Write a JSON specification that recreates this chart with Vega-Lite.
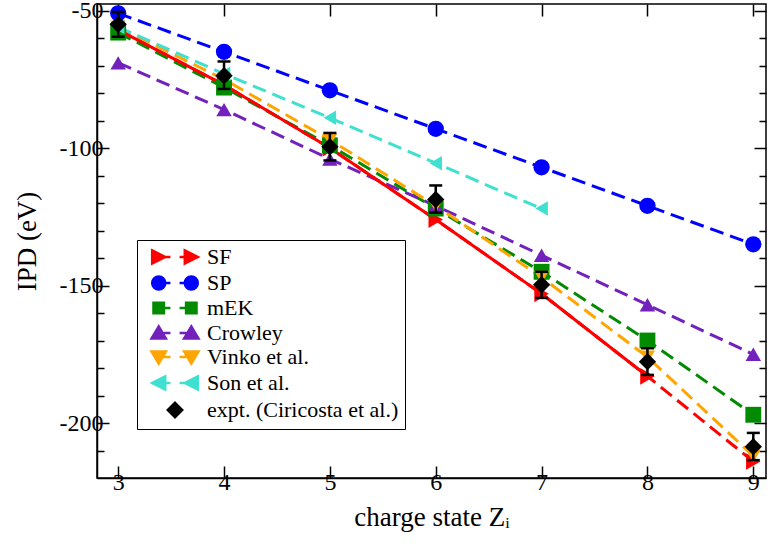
{
  "$schema": "https://vega.github.io/schema/vega-lite/v6.json",
  "autosize": "none",
  "width": 669,
  "height": 474,
  "padding": {"left": 97, "top": 4, "right": 5, "bottom": 66},
  "background": "white",
  "config": {
    "view": {"stroke": "black", "strokeWidth": 1.5},
    "axis": {
      "labelFont": "Liberation Serif",
      "titleFont": "Liberation Serif",
      "labelFontSize": 24,
      "titleFontSize": 27,
      "titleFontWeight": "normal",
      "labelColor": "black",
      "titleColor": "black",
      "domainColor": "black",
      "tickColor": "black",
      "domainWidth": 1.5,
      "tickWidth": 1.5,
      "grid": false
    },
    "legend": {"labelFont": "Liberation Serif", "labelFontSize": 22, "labelColor": "black"}
  },
  "datasets": {
    "series": [
      {"series": "SF", "x": 3, "y": -57}, {"series": "SF", "x": 4, "y": -77}, {"series": "SF", "x": 5, "y": -100}, {"series": "SF", "x": 6, "y": -126}, {"series": "SF", "x": 7, "y": -153}, {"series": "SF", "x": 8, "y": -183}, {"series": "SF", "x": 9, "y": -214},
      {"series": "SP", "x": 3, "y": -51}, {"series": "SP", "x": 4, "y": -65}, {"series": "SP", "x": 5, "y": -79}, {"series": "SP", "x": 6, "y": -93}, {"series": "SP", "x": 7, "y": -107}, {"series": "SP", "x": 8, "y": -121}, {"series": "SP", "x": 9, "y": -135},
      {"series": "mEK", "x": 3, "y": -58}, {"series": "mEK", "x": 4, "y": -78}, {"series": "mEK", "x": 5, "y": -99}, {"series": "mEK", "x": 6, "y": -122}, {"series": "mEK", "x": 7, "y": -145}, {"series": "mEK", "x": 8, "y": -170}, {"series": "mEK", "x": 9, "y": -197},
      {"series": "Crowley", "x": 3, "y": -69}, {"series": "Crowley", "x": 4, "y": -86}, {"series": "Crowley", "x": 5, "y": -104}, {"series": "Crowley", "x": 6, "y": -121}, {"series": "Crowley", "x": 7, "y": -139}, {"series": "Crowley", "x": 8, "y": -157}, {"series": "Crowley", "x": 9, "y": -175},
      {"series": "Vinko et al.", "x": 3, "y": -56}, {"series": "Vinko et al.", "x": 4, "y": -75}, {"series": "Vinko et al.", "x": 5, "y": -97}, {"series": "Vinko et al.", "x": 6, "y": -121}, {"series": "Vinko et al.", "x": 7, "y": -147}, {"series": "Vinko et al.", "x": 8, "y": -176}, {"series": "Vinko et al.", "x": 9, "y": -212},
      {"series": "Son et al.", "x": 3, "y": -56}, {"series": "Son et al.", "x": 4, "y": -73}, {"series": "Son et al.", "x": 5, "y": -89}, {"series": "Son et al.", "x": 6, "y": -105.5}, {"series": "Son et al.", "x": 7, "y": -122}
    ],
    "expt": [
      {"series": "expt. (Ciricosta et al.)", "x": 3, "y": -55, "lo": -59.5, "hi": -50.5},
      {"series": "expt. (Ciricosta et al.)", "x": 4, "y": -73.7, "lo": -78.5, "hi": -68.5},
      {"series": "expt. (Ciricosta et al.)", "x": 5, "y": -99.5, "lo": -104.5, "hi": -94.5},
      {"series": "expt. (Ciricosta et al.)", "x": 6, "y": -118.7, "lo": -123.5, "hi": -113.6},
      {"series": "expt. (Ciricosta et al.)", "x": 7, "y": -149.7, "lo": -154.5, "hi": -145},
      {"series": "expt. (Ciricosta et al.)", "x": 8, "y": -177.7, "lo": -182.5, "hi": -172.8},
      {"series": "expt. (Ciricosta et al.)", "x": 9, "y": -208.6, "lo": -213.5, "hi": -203.6}
    ]
  },
  "resolve": {"axis": {"x": "independent", "y": "independent"}},
  "layer": [
    {
      "data": {"name": "series"},
      "mark": {"type": "line", "strokeWidth": 3, "strokeDash": [14, 7], "clip": true},
      "encoding": {
        "x": {"field": "x", "type": "quantitative", "scale": {"domain": [2.8, 9.12], "nice": false, "zero": false},
              "title": "charge state Zᵢ",
              "axis": {"orient": "bottom", "values": [3, 4, 5, 6, 7, 8, 9], "tickSize": -12, "labelPadding": 4, "titlePadding": 10,
                       "labelFont": "Liberation Serif", "labelFontSize": 24, "titleFont": "Liberation Serif", "titleFontSize": 27, "labelExpr": "toString(datum.value)"}},
        "y": {"field": "y", "type": "quantitative", "scale": {"domain": [-220, -47.6], "nice": false, "zero": false},
              "title": "IPD (eV)",
              "axis": {"orient": "left", "values": [-50, -100, -150, -200], "tickSize": -12, "labelPadding": 6, "titlePadding": 18,
                       "labelFont": "Liberation Serif", "labelFontSize": 24, "titleFont": "Liberation Serif", "titleFontSize": 27, "labelExpr": "toString(datum.value)"}},
        "color": {"field": "series", "type": "nominal",
                  "scale": {"domain": ["SF", "SP", "mEK", "Crowley", "Vinko et al.", "Son et al.", "expt. (Ciricosta et al.)"],
                            "range": ["#ff0000", "#0000ff", "#008b00", "#7221bc", "#ffa500", "#40e0d0", "#000000"]}},
        "detail": {"field": "series"}
      }
    },
    {
      "data": {"name": "series"},
      "transform": [{"filter": "datum.series === 'SF' && datum.x <= 8"}],
      "mark": {"type": "line", "strokeWidth": 3, "color": "#ff0000", "clip": true},
      "encoding": {
        "x": {"field": "x", "type": "quantitative", "scale": {"domain": [2.8, 9.12], "nice": false, "zero": false},
              "axis": {"orient": "top", "values": [3, 4, 5, 6, 7, 8, 9], "tickSize": -12, "labels": false, "domain": false, "title": null}},
        "y": {"field": "y", "type": "quantitative", "scale": {"domain": [-220, -47.6], "nice": false, "zero": false},
              "axis": {"orient": "right", "values": [-50, -100, -150, -200], "tickSize": -12, "labels": false, "domain": false, "title": null}}
      }
    },
    {
      "data": {"name": "series"},
      "mark": {"type": "point", "filled": true, "opacity": 1, "clip": true},
      "encoding": {
        "x": {"field": "x", "type": "quantitative", "scale": {"domain": [2.8, 9.12], "nice": false, "zero": false}, "axis": null},
        "y": {"field": "y", "type": "quantitative", "scale": {"domain": [-220, -47.6], "nice": false, "zero": false},
              "axis": {"orient": "left", "values": [-60, -70, -80, -90, -110, -120, -130, -140, -160, -170, -180, -190, -210], "tickSize": -7, "labels": false, "domain": false, "title": null}},
        "size": {"field": "series", "type": "nominal", "legend": null,
                 "scale": {"domain": ["SF", "SP", "mEK", "Crowley", "Vinko et al.", "Son et al."],
                           "range": [280, 210, 170, 280, 280, 280]}},
        "shape": {"field": "series", "type": "nominal", "legend": null,
                  "scale": {"domain": ["SF", "SP", "mEK", "Crowley", "Vinko et al.", "Son et al."],
                            "range": ["triangle-right", "circle", "square", "triangle-up", "triangle-down", "triangle-left"]}},
        "color": {"field": "series", "type": "nominal",
                  "scale": {"domain": ["SF", "SP", "mEK", "Crowley", "Vinko et al.", "Son et al.", "expt. (Ciricosta et al.)"],
                            "range": ["#ff0000", "#0000ff", "#008b00", "#7221bc", "#ffa500", "#40e0d0", "#000000"]},
                  "legend": {
                    "orient": "none", "legendX": 40, "legendY": 236, "title": null,
                    "strokeColor": "black", "fillColor": "white", "padding": 6,
                    "symbolSize": 170, "symbolOffset": 21, "labelOffset": 21, "rowPadding": 2,
                    "symbolStrokeWidth": 2.5,
                    "symbolStrokeColor": {"expr": "scale('color', datum.value)"},
                    "symbolType": {"expr": "datum.value === 'SF' ? 'M-3.5,-1L-1.5,0L-3.5,1ZM1.5,-1L3.5,0L1.5,1ZM-2.5,0L-0.7,0M0.7,0L2.5,0' : datum.value === 'SP' ? 'M-3.5,0A1,1,0,1,1,-1.5,0A1,1,0,1,1,-3.5,0ZM1.5,0A1,1,0,1,1,3.5,0A1,1,0,1,1,1.5,0ZM-2.5,0L-0.7,0M0.7,0L2.5,0' : datum.value === 'mEK' ? 'M-3.3,-0.8H-1.7V0.8H-3.3ZM1.7,-0.8H3.3V0.8H1.7ZM-2.5,0L-0.7,0M0.7,0L2.5,0' : datum.value === 'Crowley' ? 'M-2.5,-1L-1.4,0.85L-3.6,0.85ZM2.5,-1L3.6,0.85L1.4,0.85ZM-2.5,0L-0.7,0M0.7,0L2.5,0' : datum.value === 'Vinko et al.' ? 'M-3.6,-0.85L-1.4,-0.85L-2.5,1ZM1.4,-0.85L3.6,-0.85L2.5,1ZM-2.5,0L-0.7,0M0.7,0L2.5,0' : datum.value === 'Son et al.' ? 'M-1.5,-1L-3.5,0L-1.5,1ZM3.5,-1L1.5,0L3.5,1ZM-2.5,0L-0.7,0M0.7,0L2.5,0' : 'M0,-1.1L1.1,0L0,1.1L-1.1,0Z'"},
                    "labelFont": "Liberation Serif", "labelFontSize": 22, "labelColor": "black", "labelLimit": 400
                  }}
      }
    },
    {
      "data": {"name": "expt"},
      "mark": {"type": "point", "filled": true, "opacity": 1, "size": 300, "shape": "diamond", "color": "black", "clip": true},
      "encoding": {
        "x": {"field": "x", "type": "quantitative", "scale": {"domain": [2.8, 9.12], "nice": false, "zero": false}, "axis": null},
        "y": {"field": "y", "type": "quantitative", "scale": {"domain": [-220, -47.6], "nice": false, "zero": false},
              "axis": {"orient": "right", "values": [-60, -70, -80, -90, -110, -120, -130, -140, -160, -170, -180, -190, -210], "tickSize": -7, "labels": false, "domain": false, "title": null}}
      }
    },
    {
      "data": {"name": "expt"},
      "mark": {"type": "rule", "color": "black", "strokeWidth": 2.5},
      "encoding": {
        "x": {"field": "x", "type": "quantitative", "scale": {"domain": [2.8, 9.12], "nice": false, "zero": false}, "axis": null},
        "y": {"field": "lo", "type": "quantitative", "scale": {"domain": [-220, -47.6], "nice": false, "zero": false}, "axis": null},
        "y2": {"field": "hi"}
      }
    },
    {
      "data": {"name": "expt"},
      "mark": {"type": "tick", "orient": "horizontal", "color": "black", "size": 13, "thickness": 2.5, "opacity": 1},
      "encoding": {
        "x": {"field": "x", "type": "quantitative", "scale": {"domain": [2.8, 9.12], "nice": false, "zero": false}, "axis": null},
        "y": {"field": "lo", "type": "quantitative", "scale": {"domain": [-220, -47.6], "nice": false, "zero": false}, "axis": null}
      }
    },
    {
      "data": {"name": "expt"},
      "mark": {"type": "tick", "orient": "horizontal", "color": "black", "size": 13, "thickness": 2.5, "opacity": 1},
      "encoding": {
        "x": {"field": "x", "type": "quantitative", "scale": {"domain": [2.8, 9.12], "nice": false, "zero": false}, "axis": null},
        "y": {"field": "hi", "type": "quantitative", "scale": {"domain": [-220, -47.6], "nice": false, "zero": false}, "axis": null}
      }
    }
  ]
}
